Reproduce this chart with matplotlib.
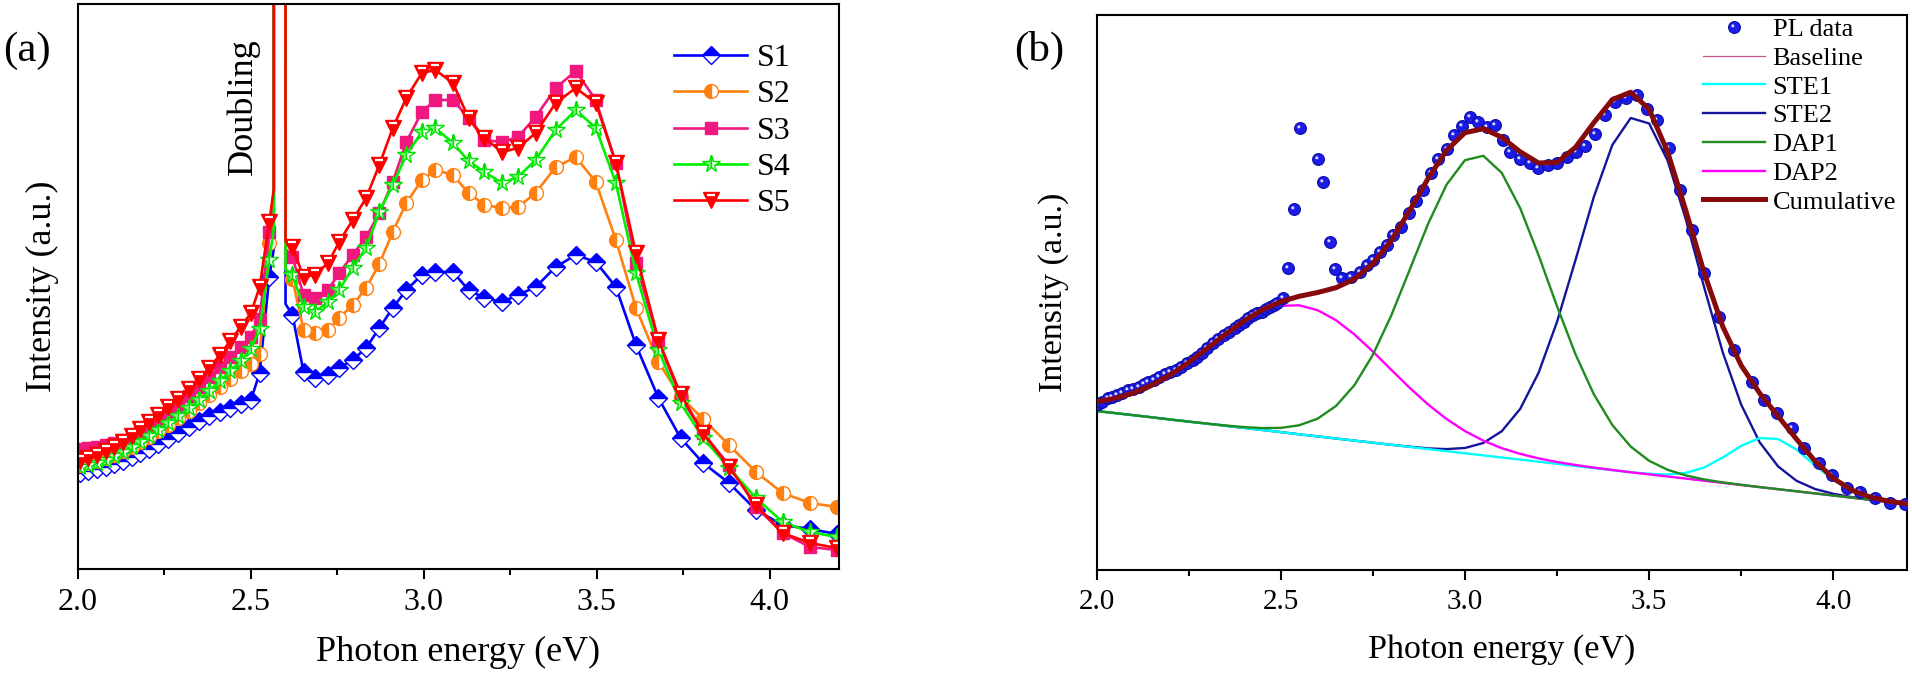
import matplotlib
matplotlib.use("Agg")
import matplotlib.pyplot as plt
from matplotlib.path import Path
from matplotlib.ticker import MultipleLocator
from matplotlib.legend_handler import HandlerTuple

plt.rcParams['font.family'] = ['Liberation Serif', 'DejaVu Serif']
plt.rcParams['axes.linewidth'] = 1.5

# ---------------- panel (a): PL spectra of S1..S5 ----------------
energy_a = [2.005, 2.030, 2.055, 2.080, 2.105, 2.130, 2.155, 2.180, 2.205, 2.230,
            2.260, 2.290, 2.320, 2.350, 2.380, 2.410, 2.440, 2.470, 2.500, 2.525,
            2.553, 2.566, 2.570, 2.596, 2.600, 2.620, 2.652, 2.684, 2.723, 2.755,
            2.794, 2.833, 2.871, 2.910, 2.949, 2.994, 3.033, 3.084, 3.129, 3.175,
            3.226, 3.272, 3.323, 3.381, 3.439, 3.497, 3.555, 3.613, 3.678, 3.742,
            3.807, 3.882, 3.960, 4.037, 4.116, 4.193]
# laser doubling spike (no symbols drawn there)
spike_energy = [2.566, 2.570, 2.596, 2.600]

s1 = [96, 98, 100, 102, 105, 108, 112, 116, 120, 125,
      130, 136, 142, 148, 153, 157, 161, 165, 169, 196,
      292, 320, 20000, 20000, 265, 254, 197, 191, 194, 201,
      209, 221, 241, 261, 279, 294, 297, 297, 279, 271,
      267, 274, 282, 302, 314, 307, 282, 224, 171, 131,
      106, 86, 59, 44, 40, 35]
s2 = [104, 106, 108, 111, 114, 118, 122, 127, 132, 138,
      144, 151, 158, 166, 174, 182, 190, 198, 205, 215,
      326, 350, 20000, 20000, 300, 290, 239, 236, 239, 251,
      264, 281, 305, 337, 366, 389, 399, 394, 376, 364,
      361, 362, 376, 402, 412, 387, 329, 261, 207, 172,
      150, 124, 97, 76, 66, 62]
s3 = [120, 121, 122, 124, 126, 129, 133, 138, 143, 149,
      156, 164, 173, 182, 192, 202, 212, 222, 232, 250,
      337, 370, 20000, 20000, 320, 312, 274, 271, 279, 296,
      314, 332, 356, 387, 427, 457, 469, 469, 451, 429,
      427, 432, 452, 481, 498, 469, 406, 306, 228, 172,
      136, 104, 62, 36, 22, 19]
s4 = [102, 104, 106, 109, 113, 117, 122, 127, 133, 139,
      146, 153, 161, 169, 178, 188, 198, 208, 220, 240,
      309, 340, 20000, 20000, 300, 294, 262, 257, 267, 279,
      301, 321, 357, 384, 414, 437, 441, 426, 408, 397,
      386, 392, 409, 439, 459, 441, 386, 296, 219, 166,
      131, 101, 71, 47, 37, 32]
s5 = [108, 111, 114, 118, 122, 127, 133, 140, 147, 154,
      162, 170, 180, 190, 201, 214, 228, 242, 256, 282,
      347, 380, 20000, 20000, 330, 322, 292, 294, 306, 327,
      349, 371, 404, 441, 471, 496, 499, 486, 451, 431,
      417, 421, 436, 466, 481, 466, 406, 316, 229, 175,
      136, 102, 64, 36, 26, 21]
labels_a = ['S1', 'S2', 'S3', 'S4', 'S5']

# ---------------- panel (b): PL data and Gaussian fit ----------------
pl_energy = [2.003, 2.016, 2.030, 2.043, 2.055, 2.070, 2.085, 2.100, 2.115, 2.128,
             2.140, 2.155, 2.170, 2.185, 2.200, 2.215, 2.230, 2.246, 2.261, 2.273,
             2.285, 2.300, 2.315, 2.330, 2.345, 2.360, 2.376, 2.388, 2.400, 2.412,
             2.424, 2.436, 2.448, 2.460, 2.472, 2.481, 2.490, 2.505, 2.521, 2.537,
             2.551, 2.600, 2.616, 2.633, 2.648, 2.665, 2.690, 2.715, 2.733, 2.750,
             2.769, 2.788, 2.805, 2.827, 2.848, 2.866, 2.886, 2.908, 2.927, 2.950,
             2.970, 2.991, 3.013, 3.035, 3.059, 3.081, 3.103, 3.122, 3.149, 3.176,
             3.198, 3.225, 3.249, 3.276, 3.301, 3.326, 3.353, 3.380, 3.407, 3.437,
             3.466, 3.493, 3.522, 3.555, 3.583, 3.615, 3.650, 3.690, 3.730, 3.779,
             3.811, 3.847, 3.887, 3.919, 3.960, 3.996, 4.037, 4.072, 4.113, 4.153,
             4.194]
pl_intensity = [166, 168, 172, 173, 175, 177, 180, 181, 183, 186,
                188, 190, 193, 196, 198, 200, 203, 207, 210, 213,
                217, 222, 227, 231, 235, 238, 242, 245, 248, 252,
                255, 257, 258, 261, 263, 265, 267, 272, 302, 361,
                442, 411, 388, 328, 301, 292, 293, 298, 305, 310,
                318, 325, 335, 343, 357, 369, 380, 397, 411, 421,
                435, 444, 453, 448, 443, 445, 430, 418, 411, 407,
                402, 405, 407, 413, 418, 424, 436, 455, 468, 472,
                475, 461, 450, 422, 380, 340, 297, 253, 220, 188,
                170, 157, 142, 122, 107, 95, 82, 78, 72, 67,
                66]

fit_energy = [2.00, 2.05, 2.10, 2.15, 2.20, 2.25, 2.30, 2.35, 2.40, 2.45,
              2.50, 2.55, 2.60, 2.65, 2.70, 2.75, 2.80, 2.85, 2.90, 2.95,
              3.00, 3.05, 3.10, 3.15, 3.20, 3.25, 3.30, 3.35, 3.40, 3.45,
              3.50, 3.55, 3.60, 3.65, 3.70, 3.75, 3.80, 3.85, 3.90, 3.95,
              4.00, 4.05, 4.10, 4.15, 4.20]
baseline_energy = [2.0, 4.2]
baseline = [159.0, 66.0]
ste1 = [159.0, 156.9, 154.8, 152.7, 150.5, 148.4, 146.3, 144.2, 142.1, 140.0,
        137.9, 135.7, 133.6, 131.5, 129.4, 127.3, 125.2, 123.1, 120.9, 118.8,
        116.7, 114.6, 112.5, 110.4, 108.3, 106.2, 104.0, 101.9, 99.8, 97.8,
        96.2, 95.5, 97.1, 102.6, 112.5, 124.1, 132.0, 131.0, 120.4, 104.7,
        90.0, 79.2, 72.7, 68.8, 66.2]
ste2 = [159.0, 156.9, 154.8, 152.7, 150.5, 148.4, 146.3, 144.2, 142.1, 140.0,
        137.9, 135.7, 133.6, 131.5, 129.4, 127.3, 125.2, 123.3, 121.6, 120.9,
        122.0, 127.0, 138.8, 161.1, 197.3, 248.2, 309.8, 373.2, 425.0, 452.0,
        446.5, 409.5, 350.1, 281.8, 217.4, 165.2, 127.7, 103.6, 89.2, 81.0,
        76.2, 72.9, 70.4, 68.1, 66.0]
dap1 = [159.0, 156.9, 154.8, 152.7, 150.5, 148.4, 146.4, 144.5, 142.9, 141.9,
        142.1, 144.7, 151.3, 164.0, 184.8, 215.1, 254.5, 300.2, 346.2, 385.3,
        409.8, 414.2, 397.1, 361.8, 314.7, 263.7, 215.8, 175.6, 145.0, 123.4,
        109.2, 100.2, 94.5, 90.5, 87.6, 85.2, 82.9, 80.8, 78.7, 76.6,
        74.5, 72.3, 70.2, 68.1, 66.0]
dap2 = [168.3, 171.6, 177.0, 184.9, 195.1, 207.5, 221.3, 235.4, 248.2, 258.3,
        264.1, 264.7, 259.8, 249.8, 235.5, 218.5, 200.2, 182.2, 165.5, 151.0,
        138.9, 129.3, 121.8, 116.1, 111.6, 108.0, 105.0, 102.4, 100.0, 97.7,
        95.6, 93.5, 91.4, 89.2, 87.1, 85.0, 82.9, 80.8, 78.7, 76.6,
        74.5, 72.3, 70.2, 68.1, 66.0]
cumulative = [168.3, 171.6, 177.0, 184.9, 195.1, 207.5, 221.4, 235.7, 249.0, 260.2,
              268.3, 273.7, 277.5, 282.3, 290.9, 306.3, 329.5, 359.5, 391.5, 419.6,
              437.3, 441.3, 432.7, 418.2, 407.0, 407.5, 422.6, 447.4, 470.4, 477.8,
              460.7, 418.2, 358.9, 296.5, 243.3, 204.5, 176.8, 153.8, 130.9, 109.1,
              91.7, 79.8, 72.9, 68.8, 66.2]

# custom little marker shapes (white stripe on the S5 triangle, sphere highlight)
_dummy = Path([(0.5, 0.5)], [Path.MOVETO])
stripe = Path.make_compound_path(Path([(-0.28, 0.3), (0.28, 0.3)]), _dummy)
shine = Path.make_compound_path(Path.circle((-0.14, 0.14), 0.13), _dummy)

fig = plt.figure(figsize=(19.12, 6.78), dpi=100)
ax_a = fig.add_axes([0.0408, 0.1608, 0.398, 0.8333])
ax_b = fig.add_axes([0.5735, 0.1593, 0.4239, 0.8186])

mark_idx = [i for i, e in enumerate(energy_a) if e not in spike_energy]

series = [s1, s2, s3, s4, s5]
colors_a = ['#0000FF', '#FF8010', '#F0187F', '#00F000', '#FF0000']
marker_kw = [
    dict(marker='D', ms=9.5, fillstyle='top', markerfacecolor='#0000FF',
         markerfacecoloralt='white', markeredgecolor='#0000FF', mew=1.0),
    dict(marker='o', ms=10, fillstyle='left', markerfacecolor='#FF8010',
         markerfacecoloralt='white', markeredgecolor='#FF8010', mew=1.0),
    dict(marker='s', ms=8.5, markerfacecolor='#F0187F', markeredgecolor='#F0187F', mew=1.0),
    dict(marker='*', ms=13, fillstyle='left', markerfacecolor='#7CFF7C',
         markerfacecoloralt='white', markeredgecolor='#00E000', mew=1.0),
    dict(marker='v', ms=11, markerfacecolor='#FF0000', markeredgecolor='#FF0000', mew=1.0),
]

handles_a = []
for vals, lab, col, mk in zip(series, labels_a, colors_a, marker_kw):
    ln, = ax_a.plot(energy_a, vals, color=col, lw=1.9, markevery=mark_idx, **mk)
    handles_a.append(ln)
# white stripe across the S5 triangles
band, = ax_a.plot(energy_a, s5, ls='none', marker=stripe, ms=11, markerfacecolor='none',
                  markeredgecolor='white', mew=1.6, markevery=mark_idx)
handles_a[4] = (handles_a[4], band)

ax_a.set_xlim(2.0, 4.2)
ax_a.set_ylim(0, 565)
ax_a.text(2.477, 462, 'Doubling', rotation=90, ha='center', va='center', fontsize=26)
ax_a.legend(handles_a, labels_a, loc='upper left', bbox_to_anchor=(0.783, 0.93),
            frameon=False, fontsize=23, numpoints=1, handlelength=2.3,
            handletextpad=0.3, labelspacing=0.22, borderpad=0, borderaxespad=0,
            handler_map={tuple: HandlerTuple(ndivide=1, pad=0)})

# panel (b)
bl, = ax_b.plot(baseline_energy, baseline, color='#C8508C', lw=0.9, zorder=2)
l_ste2, = ax_b.plot(fit_energy, ste2, color='#15159A', lw=1.7, zorder=2.1)
l_ste1, = ax_b.plot(fit_energy, ste1, color='#00FFFF', lw=1.7, zorder=2.2)
l_dap2, = ax_b.plot(fit_energy, dap2, color='#FF00FF', lw=1.7, zorder=2.3)
l_dap1, = ax_b.plot(fit_energy, dap1, color='#1E8C1E', lw=1.7, zorder=2.4)
pts, = ax_b.plot(pl_energy, pl_intensity, ls='none', marker='o', ms=8.5,
                 markerfacecolor='#1C1CE8', markeredgecolor='#0A0AA8', mew=0.8, zorder=3)
hl, = ax_b.plot(pl_energy, pl_intensity, ls='none', marker=shine, ms=8.5,
                markerfacecolor='#D8D8FF', markeredgecolor='none', zorder=3.1)
l_cum, = ax_b.plot(fit_energy, cumulative, color='#870A0A', lw=3.6, zorder=4)

ax_b.set_xlim(2.0, 4.2)
ax_b.set_ylim(0, 555)
ax_b.legend([(pts, hl), bl, l_ste1, l_ste2, l_dap1, l_dap2, l_cum],
            ['PL data', 'Baseline', 'STE1', 'STE2', 'DAP1', 'DAP2', 'Cumulative'],
            loc='upper left', bbox_to_anchor=(0.748, 0.995), frameon=False,
            fontsize=19, numpoints=1, handlelength=2.35, handletextpad=0.3,
            labelspacing=0.2, borderpad=0, borderaxespad=0,
            handler_map={tuple: HandlerTuple(ndivide=1, pad=0)})

for ax, tsize, lsize, xpad, ypad in [(ax_a, 23, 26, 14, 14), (ax_b, 21, 24.5, 14, 20)]:
    ax.xaxis.set_major_locator(MultipleLocator(0.5))
    ax.xaxis.set_minor_locator(MultipleLocator(0.25))
    ax.set_yticks([])
    ax.tick_params(axis='x', which='major', direction='out', length=7.5, width=1.5,
                   labelsize=tsize, pad=6)
    ax.tick_params(axis='x', which='minor', direction='out', length=4.5, width=1.5)
    ax.set_xlabel('Photon energy (eV)', fontsize=lsize, labelpad=xpad)
    ax.set_ylabel('Intensity (a.u.)', fontsize=lsize, labelpad=ypad)

fig.text(27 / 1912, 1 - 51 / 678, '(a)', fontsize=31, ha='center', va='center')
fig.text(1039 / 1912, 1 - 50 / 678, '(b)', fontsize=31, ha='center', va='center')

fig.savefig('out.png', dpi=100, facecolor='white')
